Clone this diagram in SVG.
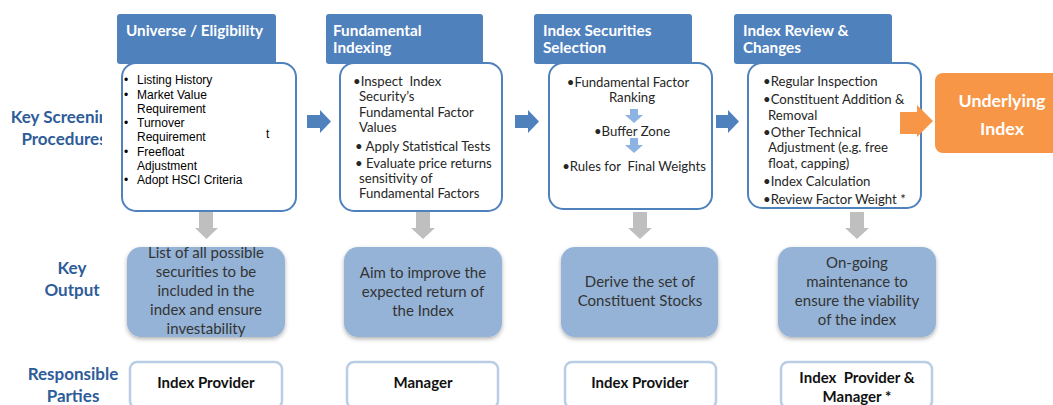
<svg xmlns="http://www.w3.org/2000/svg" width="1053" height="405" viewBox="0 0 1053 405">
<style>
text{white-space:pre}
.lbl{font-family:Lato,"Open Sans",sans-serif;font-weight:bold;font-size:17px;fill:#2E5C99;text-anchor:middle}
.hdr{fill:#4F81BD}
.htx{font-family:Lato,"Open Sans",sans-serif;font-weight:bold;font-size:15.3px;fill:#fff}
.card{fill:#fff;stroke:#4F81BD;stroke-width:2}
.ar{font-family:"Liberation Sans",Arial,sans-serif;font-size:12px;fill:#000}
.cb{font-family:Lato,"Open Sans",sans-serif;font-size:13.2px;fill:#262626}
.out{fill:#95B3D7}
.otx{font-family:Lato,"Open Sans",sans-serif;font-size:15px;fill:#333;text-anchor:middle}
.resp{fill:#fff;stroke:#B9CDE5;stroke-width:2.5}
.rtx{font-family:Lato,"Open Sans",sans-serif;font-weight:bold;font-size:15px;fill:#111;text-anchor:middle}
.blue{fill:#4F81BD}
.gray{fill:#BFBFBF}
.lb{fill:#8DB3E2}
</style>
<defs>
<clipPath id="kc"><rect x="0" y="0" width="102" height="405"/></clipPath>
<filter id="sh" x="-10%" y="-10%" width="120%" height="130%"><feDropShadow dx="0" dy="2" stdDeviation="2" flood-color="#000" flood-opacity="0.3"/></filter>
</defs>
<rect width="1053" height="405" fill="#fff"/>
<g id="row-labels">
<g clip-path="url(#kc)">
<text class="lbl" x="64" y="123">Key Screening</text>
<text class="lbl" x="64" y="145">Procedures</text>
</g>
<text class="lbl" x="72" y="274">Key</text>
<text class="lbl" x="72" y="296">Output</text>
<text class="lbl" x="73" y="380">Responsible</text>
<text class="lbl" x="73" y="402">Parties</text>
</g>
<g id="connectors">
<path class="blue" d="M307 115H320V110L331 121.5L320 133V128H307Z"/>
<path class="blue" d="M515 115H528V110L539 121.5L528 133V128H515Z"/>
<path class="blue" d="M716 115H728V110L739 121.5L728 133V128H716Z"/>
<path class="gray" d="M199 212H213V228H218L206.5 239L195 228H199Z"/>
<path class="gray" d="M416 212H430V228H435L423 239L411 228H416Z"/>
<path class="gray" d="M633 212H647V228H652L640 239L628 228H633Z"/>
<path class="gray" d="M850 212H864V228H869L857 239L845 228H850Z"/>
</g>
<g id="step1">
<rect class="hdr" x="117" y="14" width="159" height="50" rx="3"/>
<text class="htx" x="126" y="36">Universe / Eligibility</text>
<rect class="card" x="122" y="63" width="174" height="148" rx="14"/>
<text class="ar" x="266" y="138">t</text>
<g class="ar">
<text x="124" y="84">•</text><text x="137" y="84">Listing History</text>
<text x="124" y="99">•</text><text x="137" y="99">Market Value</text>
<text x="137" y="113">Requirement</text>
<text x="124" y="127">•</text><text x="137" y="127">Turnover</text>
<text x="137" y="141">Requirement</text>
<text x="124" y="156">•</text><text x="137" y="156">Freefloat</text>
<text x="137" y="170">Adjustment</text>
<text x="124" y="184">•</text><text x="137" y="184">Adopt HSCI Criteria</text>
</g>
</g>
<g id="step2">
<rect class="hdr" x="326" y="14" width="157" height="50" rx="3"/>
<text class="htx" x="333" y="36">Fundamental</text>
<text class="htx" x="333" y="53">Indexing</text>
<rect class="card" x="340" y="63" width="162" height="148" rx="14"/>
<g class="cb">
<text x="353" y="86">•Inspect  Index</text>
<text x="359" y="101">Security’s</text>
<text x="359" y="117">Fundamental Factor</text>
<text x="359" y="132">Values</text>
<text x="355" y="151">• Apply Statistical Tests</text>
<text x="355" y="168">• Evaluate price returns</text>
<text x="359" y="183">sensitivity of</text>
<text x="359" y="198">Fundamental Factors</text>
</g>
</g>
<g id="step3">
<rect class="hdr" x="534" y="14" width="158" height="50" rx="3"/>
<text class="htx" x="543" y="36">Index Securities</text>
<text class="htx" x="543" y="53">Selection</text>
<rect class="card" x="549" y="63" width="163" height="146" rx="14"/>
<path class="lb" d="M630 109H638V115H643L634 123L625 115H630Z"/>
<path class="lb" d="M630 138H638V145H643L634 153L625 145H630Z"/>
<g class="cb" text-anchor="middle">
<text x="628" y="87">•Fundamental Factor</text>
<text x="632" y="102">Ranking</text>
<text x="632" y="136">•Buffer Zone</text>
<text x="634" y="171">•Rules for  Final Weights</text>
</g>
</g>
<g id="step4">
<rect class="hdr" x="734" y="14" width="158" height="50" rx="3"/>
<text class="htx" x="743" y="36">Index Review &amp;</text>
<text class="htx" x="743" y="53">Changes</text>
<rect class="card" x="748" y="63" width="173" height="145" rx="14"/>
<g class="cb">
<text x="763" y="86">•Regular Inspection</text>
<text x="763" y="104">•Constituent Addition &amp;</text>
<text x="768" y="120">Removal</text>
<text x="763" y="137">•Other Technical</text>
<text x="768" y="152">Adjustment (e.g. free</text>
<text x="768" y="168">float, capping)</text>
<text x="763" y="186">•Index Calculation</text>
<text x="763" y="204">•Review Factor Weight *</text>
</g>
</g>
<g id="underlying-index">
<path fill="#F79646" d="M900 112H917V105L933 121L917 137V134H900Z"/>
<rect fill="#F79646" x="935" y="73" width="130" height="80" rx="8"/>
<text x="1002" y="107" font-family="Lato,'Open Sans',sans-serif" font-weight="bold" font-size="17.8" fill="#fff" text-anchor="middle">Underlying</text>
<text x="1002" y="135" font-family="Lato,'Open Sans',sans-serif" font-weight="bold" font-size="17.8" fill="#fff" text-anchor="middle">Index</text>
</g>
<g id="output1">
<rect class="out" x="127" y="247" width="158" height="90" rx="14" filter="url(#sh)"/>
<text class="otx" x="206" y="258">List of all possible</text>
<text class="otx" x="206" y="277">securities to be</text>
<text class="otx" x="206" y="296">included in the</text>
<text class="otx" x="206" y="315">index and ensure</text>
<text class="otx" x="206" y="334">investability</text>
</g>
<g id="output2">
<rect class="out" x="344" y="247" width="158" height="90" rx="14" filter="url(#sh)"/>
<text class="otx" x="423" y="278">Aim to improve the</text>
<text class="otx" x="423" y="297">expected return of</text>
<text class="otx" x="423" y="316">the Index</text>
</g>
<g id="output3">
<rect class="out" x="561" y="247" width="157" height="90" rx="14" filter="url(#sh)"/>
<text class="otx" x="640" y="287">Derive the set of</text>
<text class="otx" x="640" y="306">Constituent Stocks</text>
</g>
<g id="output4">
<rect class="out" x="778" y="247" width="158" height="90" rx="14" filter="url(#sh)"/>
<text class="otx" x="857" y="268">On-going</text>
<text class="otx" x="857" y="287">maintenance to</text>
<text class="otx" x="857" y="306">ensure the viability</text>
<text class="otx" x="857" y="325">of the index</text>
</g>
<g id="party1">
<rect class="resp" x="130" y="362" width="152" height="46" rx="7"/>
<text class="rtx" x="206" y="388">Index Provider</text>
</g>
<g id="party2">
<rect class="resp" x="347" y="362" width="151" height="46" rx="7"/>
<text class="rtx" x="423" y="388">Manager</text>
</g>
<g id="party3">
<rect class="resp" x="565" y="362" width="151" height="46" rx="7"/>
<text class="rtx" x="640" y="388">Index Provider</text>
</g>
<g id="party4">
<rect class="resp" x="781" y="362" width="151" height="46" rx="7"/>
<text class="rtx" x="857" y="383">Index  Provider &amp;</text>
<text class="rtx" x="857" y="402">Manager *</text>
</g>
</svg>
